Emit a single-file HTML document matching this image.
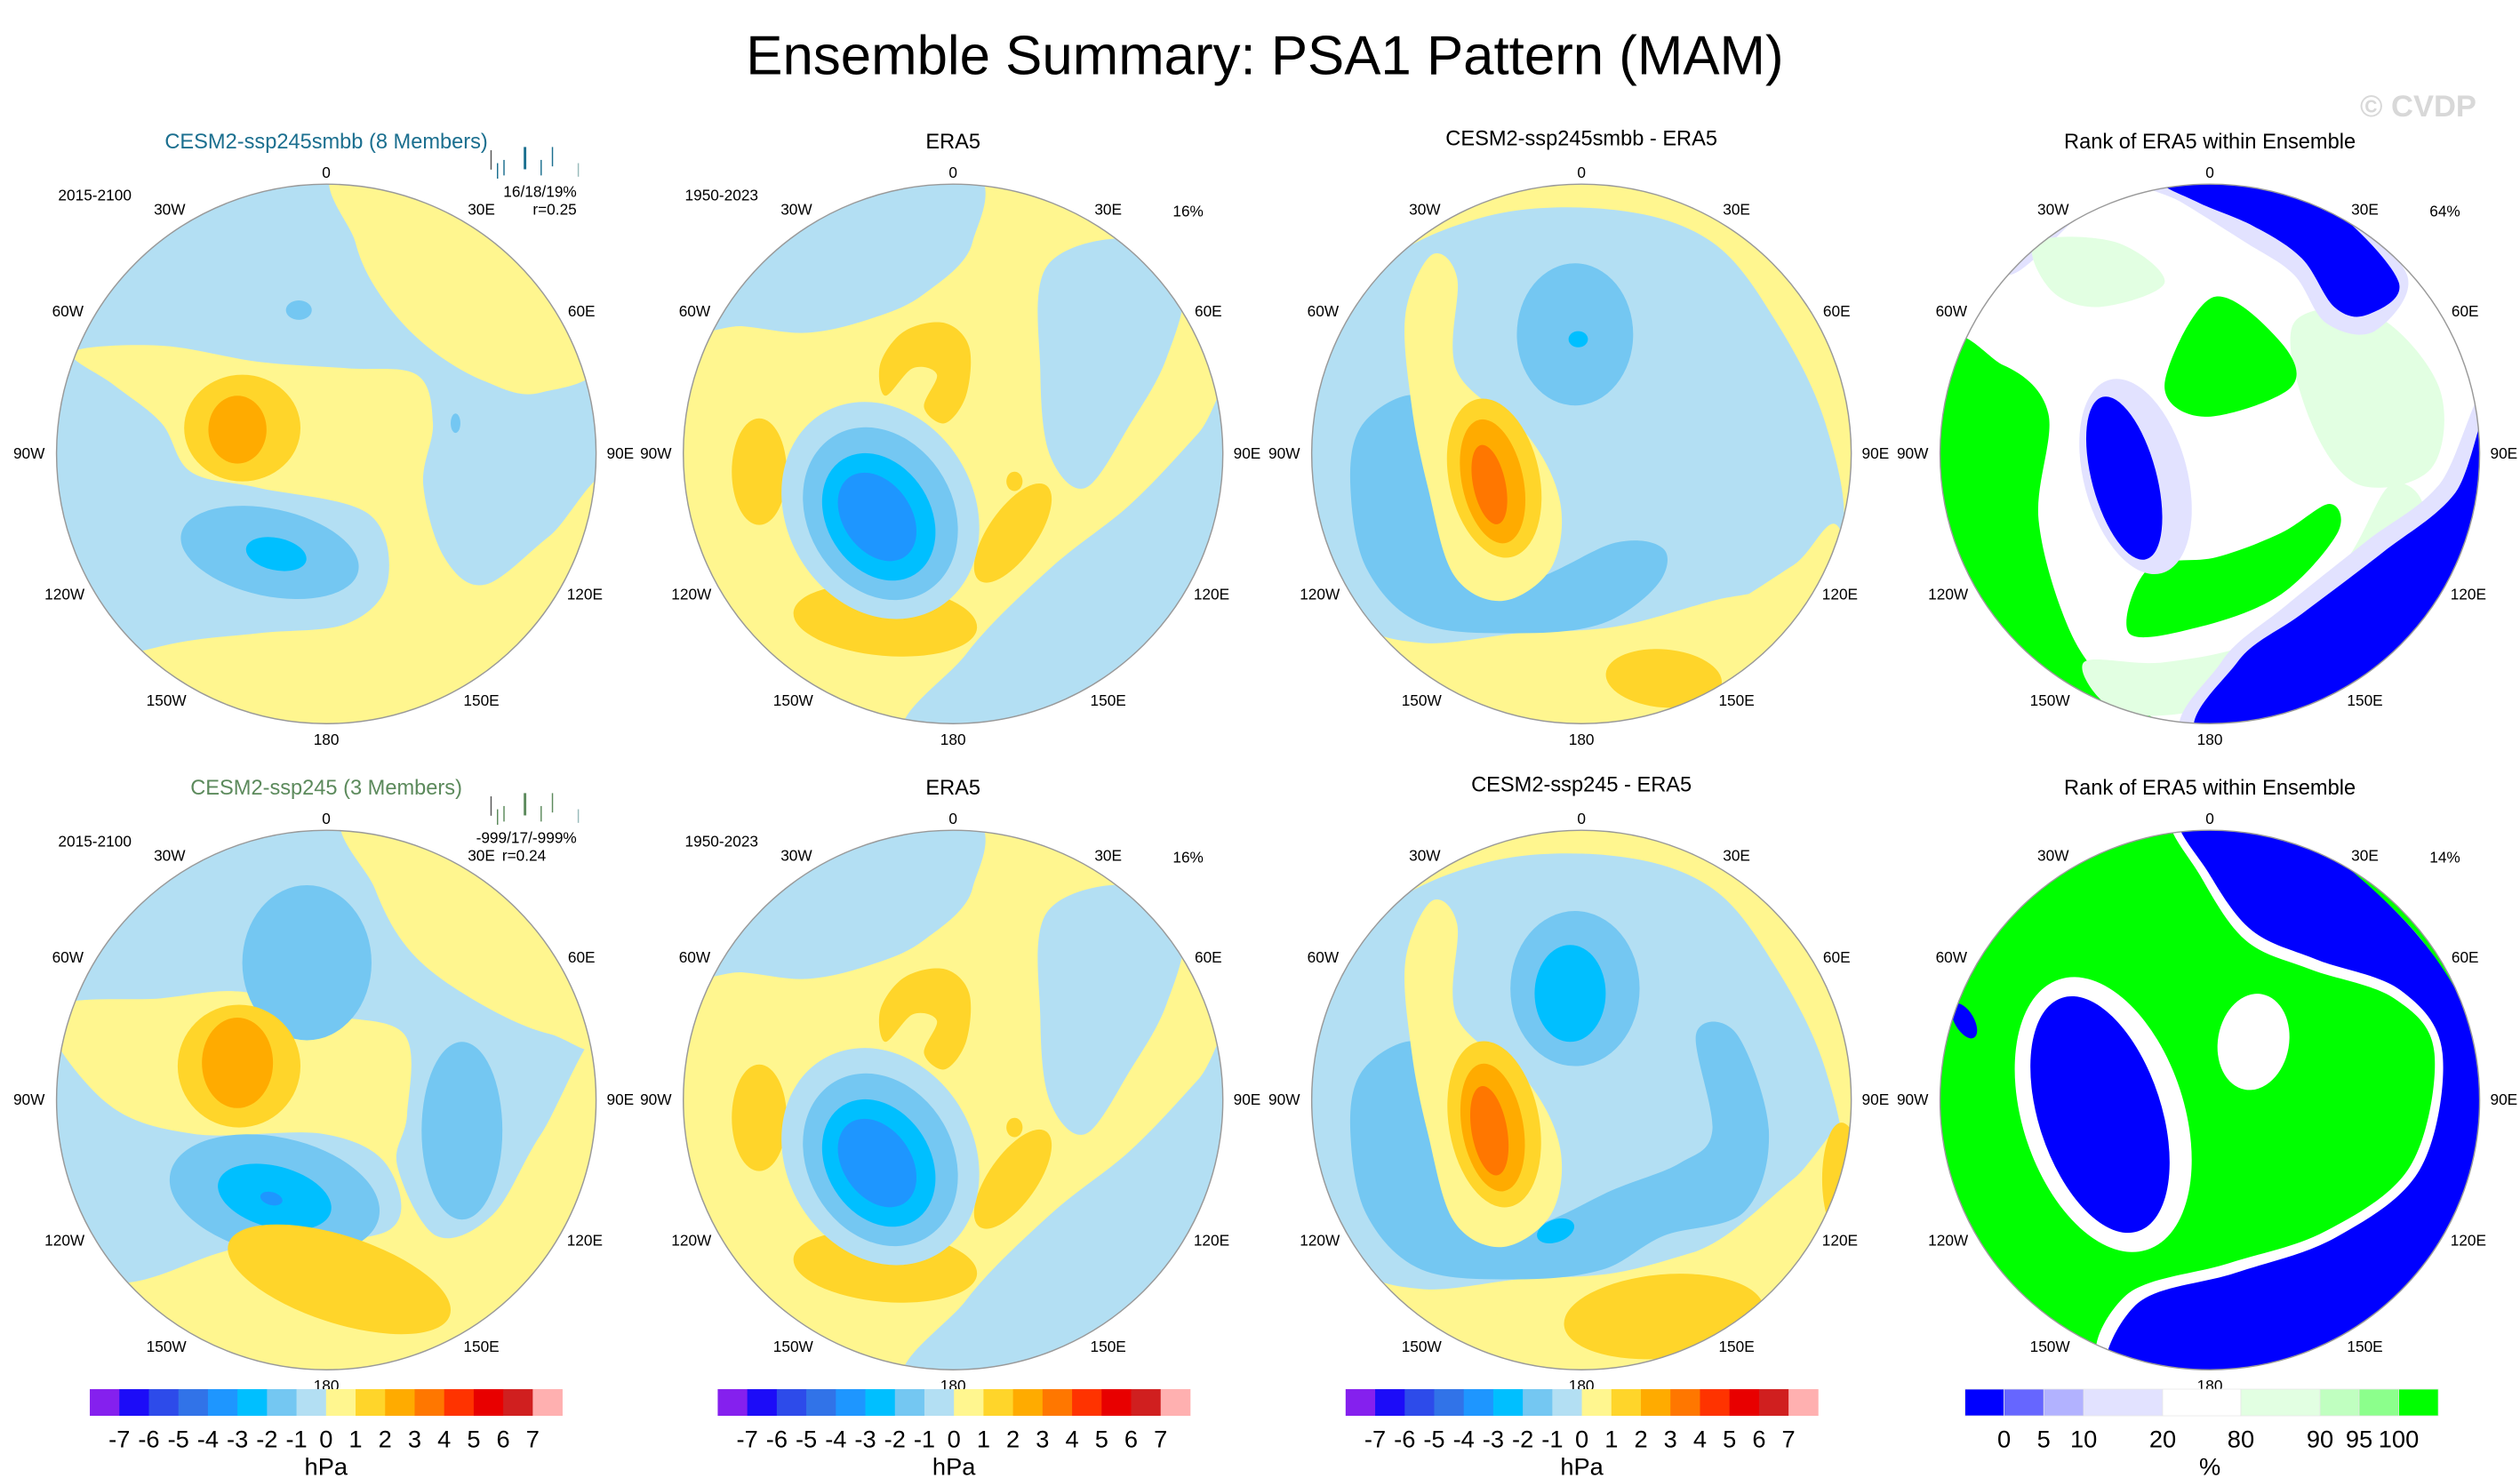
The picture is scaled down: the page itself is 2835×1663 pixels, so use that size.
<!DOCTYPE html>
<html><head><meta charset="utf-8">
<style>
html,body{margin:0;padding:0;background:#fff;}
svg{display:block;font-family:"Liberation Sans",Arial,sans-serif;}
</style></head>
<body>
<svg id="fig" xmlns="http://www.w3.org/2000/svg" width="2835" height="1663" viewBox="0 0 1560 915" preserveAspectRatio="none">
<text x="783" y="46" font-size="34" text-anchor="middle" fill="#000">Ensemble Summary: PSA1 Pattern (MAM)</text>
<text x="1497" y="72" font-size="19" text-anchor="middle" fill="#d8d8d8" font-weight="bold">© CVDP</text>
<g id="panels"></g>
</svg>
<script>
// colorbar data
const hpaColors = ["#8520EE","#1C0CF8","#2D4BEA","#3173E8","#1E96FF","#00BFFF","#74C7F2","#B3DFF3","#FFF68F","#FFD52A","#FFAB00","#FF7700","#FF3300","#E80000","#D01F1F","#FFB0B0"];
const hpaTicks = ["-7","-6","-5","-4","-3","-2","-1","0","1","2","3","4","5","6","7"];
const rankColors = ["#0000FF","#6666FF","#B2B2FF","#E2E2FF","#FFFFFF","#E2FFE2","#C0FFC0","#8CFF8C","#00FF00"];
const rankBounds = [-5,0,5,10,20,80,90,95,100,105];
const rankTicks = ["0","5","10","20","80","90","95","100"];
const rankTickVals = [0,5,10,20,80,90,95,100];
const colCenters = [202,590,979,1368];
const rowCenters = [281,681];
const R = 167;
const lonLabels = ["0","30E","60E","90E","120E","150E","180","150W","120W","90W","60W","30W"];
const lonOffsets = [[0,-171],[96,-148],[158,-85],[182,3],[160,90],[96,156],[0,180],[-99,156],[-162,90],[-184,3],[-160,-85],[-97,-148]];

const NS="http://www.w3.org/2000/svg";
const root=document.getElementById('panels');
function mk(tag,attrs,parent){const e=document.createElementNS(NS,tag);for(const k in attrs)e.setAttribute(k,attrs[k]);(parent||root).appendChild(e);return e;}
function smooth(pts){
  const n=pts.length;let d="M"+pts[0][0]+","+pts[0][1];
  for(let i=0;i<n;i++){
    const p0=pts[(i-1+n)%n],p1=pts[i],p2=pts[(i+1)%n],p3=pts[(i+2)%n];
    const c1=[p1[0]+(p2[0]-p0[0])/6,p1[1]+(p2[1]-p0[1])/6];
    const c2=[p2[0]-(p3[0]-p1[0])/6,p2[1]-(p3[1]-p1[1])/6];
    d+="C"+c1[0].toFixed(1)+","+c1[1].toFixed(1)+" "+c2[0].toFixed(1)+","+c2[1].toFixed(1)+" "+p2[0]+","+p2[1];
  }
  return d+"Z";
}
const field1=[
 {p:[[215,100],[380,100],[380,215],[335,243],[300,236],[265,215],[237,185],[220,150]],c:8},
 {p:[[45,218],[100,214],[160,224],[215,228],[258,232],[268,262],[262,300],[275,345],[300,362],[340,332],[380,300],[380,460],[25,460],[25,425],[100,400],[160,392],[215,386],[240,360],[228,318],[160,302],[118,292],[100,262],[70,238]],c:8},
 {e:[150,265,36,33,0],c:9},{e:[147,266,18,21,0],c:10},
 {e:[167,342,56,27,12],c:6},{e:[171,343,19,10,12],c:5},
 {e:[185,192,8,6,0],c:6},{e:[282,262,3,6,0],c:6}
];
const field2=[
 {p:[[415,100],[592,100],[602,150],[572,182],[540,197],[500,206],[460,202],[415,198]],c:7},
 {p:[[648,165],[700,148],[732,175],[722,222],[700,262],[672,302],[650,282],[644,230]],c:7},
 {p:[[770,235],[770,460],[568,460],[598,405],[650,352],[700,312],[742,268]],c:7},
 {p:[[560,205],[585,200],[600,215],[598,245],[585,262],[572,252],[580,232],[565,228],[548,245],[545,225]],c:9},
 {e:[470,292,17,33,0],c:9},
 {e:[548,384,57,22,5],c:9},{e:[627,330,36,15,-55],c:9},
 {e:[545,316,58,70,-30],c:7},{e:[545,318,45,56,-30],c:6},{e:[544,320,32,42,-32],c:5},{e:[543,320,21,30,-35],c:4},
 {e:[628,298,5,6,0],c:9}
];
const field3=[
 {p:[[850,170],[920,134],[1000,130],[1060,150],[1100,200],[1130,262],[1140,330],[1100,362],[1060,372],[1000,388],[940,392],[880,398],[838,382],[812,322],[812,250]],c:7},
 {p:[[870,245],[900,252],[892,292],[902,340],[942,360],[1000,336],[1030,340],[1026,362],[992,386],[940,392],[880,386],[846,352],[836,302],[842,265]],c:6},
 {e:[975,207,36,44,0],c:6},{e:[977,210,6,5,0],c:5},
 {p:[[870,195],[886,158],[902,172],[902,230],[946,270],[966,312],[960,352],[930,372],[900,356],[884,302],[874,252]],c:8},
 {e:[925,296,28,50,-12],c:9},{e:[924,298,19,39,-12],c:10},{e:[922,300,10,25,-12],c:11},
 {p:[[830,440],[880,425],[940,410],[1000,400],[1060,380],[1110,350],[1140,330],[1150,460],[830,460]],c:8},
 {e:[1030,420,36,18,5],c:9}
];
const field4=[
 {p:[[1198,225],[1240,226],[1268,256],[1262,322],[1282,392],[1312,432],[1340,455],[1198,455]],c:8},
 {p:[[1230,150],[1270,125],[1300,118],[1280,140],[1245,170]],c:3},
 {p:[[1260,150],[1310,150],[1340,175],[1300,190],[1270,180]],c:5},
 {p:[[1420,200],[1470,195],[1510,240],[1505,290],[1460,300],[1430,260]],c:5},
 {p:[[1290,410],[1340,410],[1400,395],[1450,350],[1480,300],[1500,320],[1460,380],[1400,420],[1360,440],[1310,440]],c:5},
 {p:[[1330,114],[1400,112],[1440,125],[1490,170],[1470,205],[1440,200],[1420,170],[1390,150],[1350,125]],c:3},
 {p:[[1340,112],[1400,110],[1445,130],[1485,175],[1465,195],[1445,190],[1425,160],[1395,140],[1360,125]],c:0},
 {p:[[1545,240],[1545,460],[1360,460],[1375,410],[1415,375],[1465,335],[1510,300]],c:3},
 {p:[[1545,250],[1545,460],[1368,460],[1385,410],[1425,380],[1475,342],[1520,305]],c:0},
 {p:[[1340,238],[1370,184],[1412,212],[1418,240],[1365,258]],c:8},
 {p:[[1318,392],[1330,352],[1372,345],[1412,330],[1442,312],[1447,330],[1412,368],[1362,388]],c:8},
 {e:[1322,295,32,62,-15],c:3},{e:[1315,296,20,52,-15],c:0}
];
const field5=[
 {p:[[220,500],[380,500],[380,640],[340,640],[295,620],[255,590],[232,550]],c:8},
 {p:[[30,626],[100,618],[150,614],[200,628],[250,640],[252,690],[246,722],[270,765],[305,752],[335,702],[380,640],[380,860],[25,860],[25,805],[90,792],[150,772],[240,762],[240,722],[200,702],[120,702],[65,682]],c:8},
 {e:[190,596,40,48,0],c:6},{e:[286,700,25,55,0],c:6},
 {e:[170,740,66,36,12],c:6},{e:[170,741,36,19,15],c:5},{e:[168,742,7,4,15],c:4},
 {e:[148,660,38,38,0],c:9},{e:[147,658,22,28,0],c:10},
 {e:[210,792,72,27,18],c:9}
];
const field7=[
 {p:[[850,570],[920,534],[1000,530],[1060,550],[1100,600],[1130,662],[1140,730],[1100,762],[1060,772],[1000,788],[940,792],[880,798],[838,782],[812,722],[812,650]],c:7},
 {p:[[870,645],[900,652],[892,692],[902,740],[942,760],[1000,736],[1040,720],[1060,700],[1050,640],[1075,640],[1095,700],[1080,750],[1030,765],[992,786],[940,792],[880,786],[846,752],[836,702],[842,665]],c:6},
 {e:[975,612,40,48,0],c:6},{e:[972,615,22,30,0],c:5},
 {p:[[870,595],[886,558],[902,572],[902,630],[946,670],[966,712],[960,752],[930,772],[900,756],[884,702],[874,652]],c:8},
 {e:[925,696,28,52,-10],c:9},{e:[924,698,19,40,-10],c:10},{e:[922,700,11,28,-10],c:11},
 {p:[[830,850],[880,825],[940,810],[1000,790],[1060,770],[1110,730],[1150,700],[1150,860],[830,860]],c:8},
 {e:[1030,815,62,26,-5],c:9},{e:[1140,730,12,35,0],c:9},
 {e:[860,690,3,7,0],c:6},{e:[963,762,12,7,-20],c:5}
];
const field8=[
 {p:[[1345,505],[1405,508],[1462,545],[1512,600],[1545,680],[1545,770],[1505,825],[1420,860],[1305,850],[1316,802],[1380,782],[1440,762],[1492,722],[1507,652],[1482,618],[1430,600],[1390,582],[1362,542]],c:4},
 {p:[[1350,505],[1410,510],[1466,548],[1515,604],[1548,680],[1548,775],[1508,830],[1420,865],[1310,860],[1322,808],[1384,788],[1446,766],[1498,724],[1512,652],[1486,613],[1434,594],[1394,576],[1367,540]],c:0},
 {e:[1302,690,50,88,-18],c:4},{e:[1300,690,38,76,-18],c:0},
 {e:[1395,645,22,30,10],c:4},{e:[1216,632,6,12,-30],c:0}
];
function field2r2(){return field2.map(s=>s.p?{p:s.p.map(q=>[q[0],q[1]+400]),c:s.c}:{e:[s.e[0],s.e[1]+400,s.e[2],s.e[3],s.e[4]],c:s.c});}
const panels=[
 {cx:0,cy:0,bg:7,f:field1,pal:"h",title:"CESM2-ssp245smbb (8 Members)",tc:"#1b6f8f",left:"2015-2100",right:["16/18/19%","r=0.25"],bars:true},
 {cx:1,cy:0,bg:8,f:field2,pal:"h",title:"ERA5",tc:"#000",left:"1950-2023",pct:"16%"},
 {cx:2,cy:0,bg:8,f:field3,pal:"h",title:"CESM2-ssp245smbb - ERA5",tc:"#000",ty:-2},
 {cx:3,cy:0,bg:4,f:field4,pal:"r",title:"Rank of ERA5 within Ensemble",tc:"#000",pct:"64%"},
 {cx:0,cy:1,bg:7,f:field5,pal:"h",title:"CESM2-ssp245 (3 Members)",tc:"#5c8a5c",left:"2015-2100",right:["-999/17/-999%","r=0.24"],bars:true},
 {cx:1,cy:1,bg:8,f:field2r2(),pal:"h",title:"ERA5",tc:"#000",left:"1950-2023",pct:"16%"},
 {cx:2,cy:1,bg:8,f:field7,pal:"h",title:"CESM2-ssp245 - ERA5",tc:"#000",ty:-2},
 {cx:3,cy:1,bg:8,f:field8,pal:"r",title:"Rank of ERA5 within Ensemble",tc:"#000",pct:"14%"}
];
panels.forEach((P,i)=>{
  const cx=colCenters[P.cx], cy=rowCenters[P.cy];
  const pal=P.pal==="h"?hpaColors:rankColors;
  const col=k=>P.pal==="h"?pal[k]:(k===0?"#0000FF":k===3?"#E2E2FF":k===4?"#FFFFFF":k===5?"#E2FFE2":k===8?"#00FF00":pal[k]);
  const g=mk('g',{});
  
  
  const clip=mk('clipPath',{id:'clip'+i},g);mk('circle',{cx:cx,cy:cy,r:R},clip);
  const fg=mk('g',{'clip-path':'url(#clip'+i+')'},g);
  
  
  mk('rect',{x:cx-R-5,y:cy-R-5,width:2*R+10,height:2*R+10,fill:col(P.bg)},fg);
  P.f.forEach(s=>{
    let el;
    if(s.p){el=mk('path',{d:smooth(s.p),fill:col(s.c)},fg);}
    else{el=mk('ellipse',{cx:s.e[0],cy:s.e[1],rx:s.e[2],ry:s.e[3],transform:'rotate('+s.e[4]+' '+s.e[0]+' '+s.e[1]+')',fill:col(s.c)},fg);}
    
    
  });
  const border=mk('circle',{cx:cx,cy:cy,r:R,fill:'none',stroke:'#999','stroke-width':0.8},g);
  
  
  lonLabels.forEach((L,k)=>{
    const t=mk('text',{x:cx+lonOffsets[k][0],y:cy+lonOffsets[k][1],'font-size':9.5,'text-anchor':'middle',fill:'#000'},g);
    t.textContent=L;
    
    
  });
  const tt=mk('text',{x:cx,y:cy-189+(P.ty||0),'font-size':13,'text-anchor':'middle',fill:P.tc},g);
  tt.textContent=P.title;
  
  
  if(P.left){const t=mk('text',{x:cx-166,y:cy-157,'font-size':9.5,fill:'#000'},g);t.textContent=P.left;
    
    }
  if(P.pct){const t=mk('text',{x:cx+155,y:cy-147,'font-size':9.5,'text-anchor':'end',fill:'#000'},g);t.textContent=P.pct;
    
    }
  if(P.right){
    const t1=mk('text',{x:cx+155,y:cy-159,'font-size':9.5,'text-anchor':'end',fill:'#000'},g);t1.textContent=P.right[0];
    
    
    const t2=mk('text',{x:cx+(P.cy===1?136:155),y:cy-148,'font-size':9.5,'text-anchor':'end',fill:'#000'},g);t2.textContent=P.right[1];
    
    
  }
  if(P.bars){
    const bc=P.cy===0?"#1b6f8f":"#5c8a5c";
    const bx=[[102,0,20,"#555"],[106,8,16,bc],[110,6,16,bc],[123,-2,23,bc],[133,6,16,bc],[140,-2,20,bc],[156,8,14,"#9bb"]];
    bx.forEach(b=>{const l=mk('line',{x1:cx+b[0],x2:cx+b[0],y1:cy-188+b[1],y2:cy-188+b[1]+(b[2]*0.6),stroke:b[3],'stroke-width':b[0]===123?1.6:0.8},g);
      
      });
  }
});
const barY=860, barH=16.5;
for(let c=0;c<3;c++){
  const x0=55.6+c*388.7, w=18.28;
  const g=mk('g',{});
  
  
  hpaColors.forEach((col,k)=>{const r=mk('rect',{x:x0+k*w,y:barY,width:w+0.2,height:barH,fill:col},g);
    
    });
  hpaTicks.forEach((t,k)=>{const e=mk('text',{x:x0+(k+1)*w,y:barY+36,'font-size':15,'text-anchor':'middle',fill:'#000'},g);e.textContent=t;
    
    });
  const u=mk('text',{x:x0+8*w,y:barY+53,'font-size':15,'text-anchor':'middle',fill:'#000'},g);u.textContent="hPa";
  
  
}
{
  const edges=[1216.4,1240.6,1265.2,1289.9,1338.8,1387.2,1436.2,1460.4,1484.9,1509.4];
  const g=mk('g',{});
  
  
  rankColors.forEach((col,k)=>{const r=mk('rect',{x:edges[k],y:barY,width:edges[k+1]-edges[k],height:barH,fill:col,stroke:'#e6e6e6','stroke-width':0.4},g);
    
    });
  rankTicks.forEach((t,k)=>{const e=mk('text',{x:edges[k+1],y:barY+36,'font-size':15,'text-anchor':'middle',fill:'#000'},g);e.textContent=t;
    
    });
  const u=mk('text',{x:1368,y:barY+53,'font-size':15,'text-anchor':'middle',fill:'#000'},g);u.textContent="%";
  
  
}
</script>
</body></html>
